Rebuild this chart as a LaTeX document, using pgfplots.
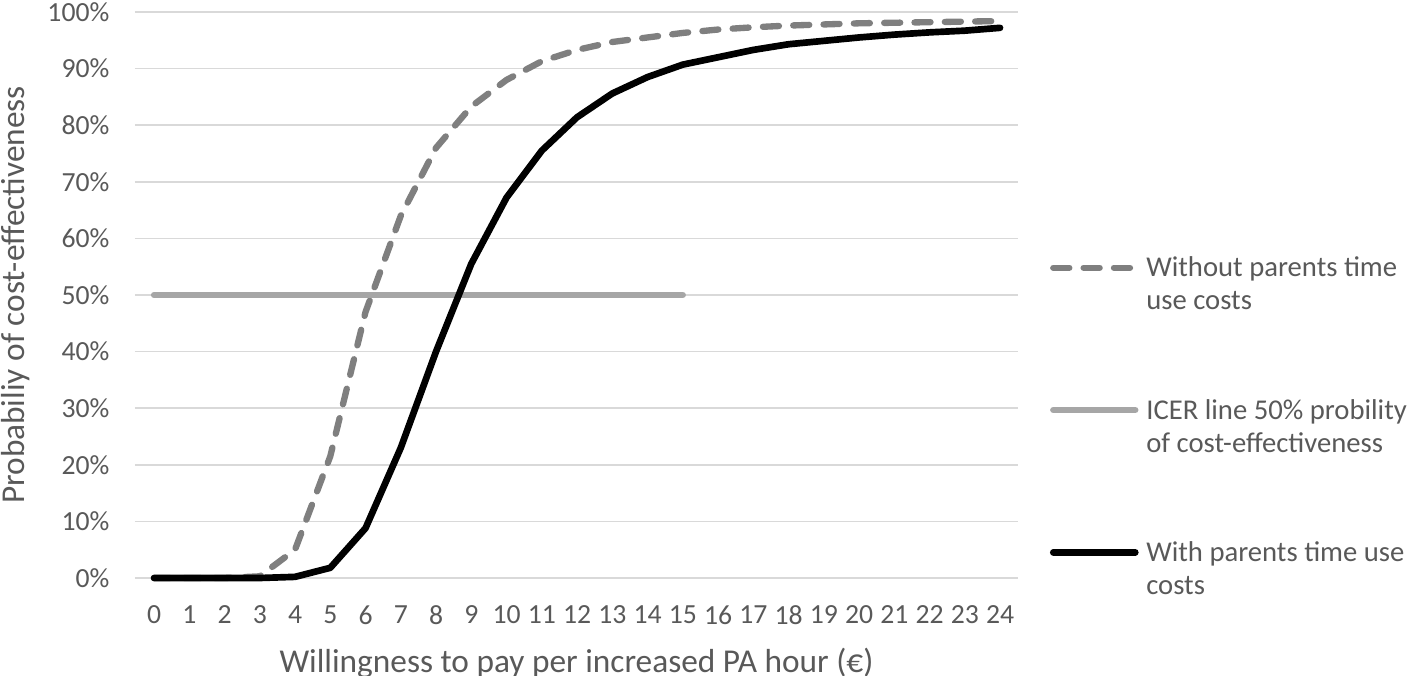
\documentclass[border=0pt]{standalone}
\usepackage{pgfplots}
\pgfplotsset{compat=1.18}
\usepackage{fontspec}
\setmainfont{Carlito}
\definecolor{txt}{HTML}{595959}
\definecolor{gridc}{HTML}{D9D9D9}
\definecolor{dashc}{HTML}{7F7F7F}
\definecolor{icerc}{HTML}{A6A6A6}
\begin{document}
\begin{tikzpicture}
\useasboundingbox (-40.5pt,-29.4pt) rectangle (384.9pt,173.4pt);
\begin{axis}[
  at={(0,0)}, anchor=south west,
  scale only axis, width=264.9pt, height=169.8pt,
  xmin=-0.54, xmax=24.51, ymin=0, ymax=100,
  clip=false,
  axis line style={draw=none},
  major tick length=0pt,
  ymajorgrids, grid style={gridc, line width=0.45pt},
  xtick={0,...,24},
  xticklabels={0,1,2,3,4,5,6,7,8,9,10,11,12,13,14,15,16,17,18,19,20,21,22,23,24},
  ytick={0,10,...,100},
  yticklabels={0\%,10\%,20\%,30\%,40\%,50\%,60\%,70\%,80\%,90\%,100\%},
  ticklabel style={font=\fontsize{8.3}{10}\selectfont, text=txt, inner sep=0pt},
  yticklabel style={anchor=east, xshift=-7.5pt},
  xticklabel style={anchor=north, yshift=-8.1pt},
  xlabel={Willingness to pay per increased PA hour (€)},
  ylabel={Probabiliy of cost-effectiveness},
  label style={font=\fontsize{10}{12}\selectfont, text=txt, inner sep=0pt},
  xlabel style={at={(axis description cs:0.5,-0.1219)}, anchor=north},
  ylabel style={at={(axis description cs:-0.1518,0.5)}, anchor=north},
  legend style={draw=none, fill=none, inner sep=0pt, outer sep=0pt,
    at={(axis description cs:1.0362,0.5848)}, anchor=north west,
    font=\fontsize{8.6}{9.9}\selectfont, text=txt,
    column sep=0.3pt, row sep=30.25pt,
    cells={anchor=base west, inner sep=0pt}},
  legend image code/.code={\draw[#1, line cap=round] (0.9pt,2.7pt) -- (25.5pt,2.7pt);},
]
\addplot[dashc, line width=1.9pt, line cap=round, line join=round, dash pattern=on 4.8pt off 4.3pt]
  coordinates {(0,0) (1,0) (2,0) (3,0.3) (4,5) (5,21.5) (6,47) (7,64) (8,76) (9,83.3) (10,88) (11,91.3) (12,93.3) (13,94.7) (14,95.5) (15,96.3) (16,96.9) (17,97.3) (18,97.6) (19,97.8) (20,98) (21,98.1) (22,98.2) (23,98.3) (24,98.4)};
\addlegendentry{\begin{tabular}[t]{@{}l@{}}Without parents time\\use costs\end{tabular}}
\addplot[icerc, line width=1.9pt, line cap=round]
  coordinates {(0,50) (15,50)};
\addlegendentry{\begin{tabular}[t]{@{}l@{}}ICER line 50\% probility\\of cost-effectiveness\end{tabular}}
\addplot[black, line width=2pt, line cap=round, line join=round]
  coordinates {(0,0) (1,0) (2,0) (3,0) (4,0.2) (5,1.8) (6,8.8) (7,23) (8,40) (9,55.5) (10,67.2) (11,75.5) (12,81.4) (13,85.6) (14,88.5) (15,90.7) (16,92) (17,93.3) (18,94.3) (19,94.9) (20,95.5) (21,96) (22,96.4) (23,96.7) (24,97.2)};
\addlegendentry{\begin{tabular}[t]{@{}l@{}}With parents time use\\costs\end{tabular}}
\end{axis}
\end{tikzpicture}
\end{document}
